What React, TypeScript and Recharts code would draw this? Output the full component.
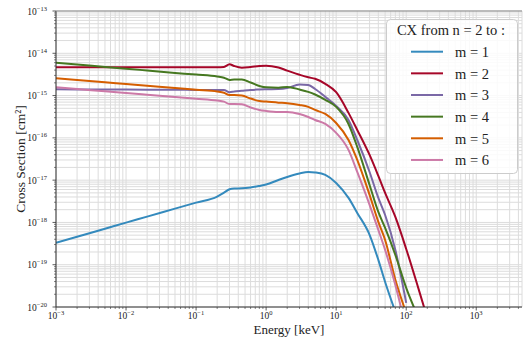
import React from 'react';
import { LineChart, Line, XAxis, YAxis, CartesianGrid } from 'recharts';

// energy grid [keV]
const energy = [0.001, 0.002, 0.005, 0.01, 0.02, 0.05, 0.1, 0.2, 0.25, 0.3, 0.35, 0.45, 0.6, 0.8, 1, 1.5, 2, 3, 4, 5, 7, 10, 15, 20, 30, 40, 50, 70, 100, 150, 200];

// cross sections [cm^2], CX from n = 2 to m
const m1 = [3.3e-19, 4.6e-19, 7.1e-19, 9.9e-19, 1.37e-18, 2.12e-18, 2.94e-18, 4.07e-18, 5.06e-18, 6.1e-18, 6.36e-18, 6.4e-18, 6.7e-18, 7.3e-18, 7.9e-18, 1.01e-17, 1.19e-17, 1.44e-17, 1.56e-17, 1.52e-17, 1.33e-17, 8.6e-18, 3.8e-18, 1.68e-18, 5.1e-19, 1.3e-19, 3.9e-20, 7.7e-21, null, null, null];
const m2 = [4.7e-15, 4.7e-15, 4.7e-15, 4.7e-15, 4.7e-15, 4.7e-15, 4.7e-15, 4.7e-15, 4.75e-15, 5.5e-15, 5.0e-15, 4.57e-15, 4.74e-15, 5.0e-15, 5.1e-15, 4.6e-15, 3.9e-15, 3.1e-15, 2.7e-15, 2.5e-15, 1.9e-15, 1.2e-15, 3.9e-16, 1.54e-16, 3.94e-17, 1.26e-17, 4.98e-18, 1.35e-18, 2.36e-19, 2.68e-20, 5.5e-21];
const m3 = [1.41e-15, 1.4e-15, 1.4e-15, 1.39e-15, 1.38e-15, 1.37e-15, 1.36e-15, 1.36e-15, 1.36e-15, 1.2e-15, 1.25e-15, 1.3e-15, 1.36e-15, 1.39e-15, 1.41e-15, 1.43e-15, 1.51e-15, 1.83e-15, 1.78e-15, 1.43e-15, 9.3e-16, 5.7e-16, 2.65e-16, 8.9e-17, 1.56e-17, 3.8e-18, 1.5e-18, 2.24e-19, 1.25e-20, null, null];
const m4 = [6.0e-15, 5.4e-15, 4.77e-15, 4.32e-15, 3.92e-15, 3.44e-15, 3.13e-15, 2.83e-15, 2.65e-15, 2.34e-15, 2.4e-15, 2.4e-15, 2.04e-15, 1.69e-15, 1.57e-15, 1.54e-15, 1.6e-15, 1.39e-15, 1.22e-15, 1.06e-15, 7.9e-16, 5.4e-16, 2.13e-16, 6.1e-17, 7.7e-18, 1.77e-18, 7.4e-19, 1.7e-19, 2.83e-20, 5.5e-21, null];
const m5 = [2.56e-15, 2.34e-15, 2.06e-15, 1.88e-15, 1.71e-15, 1.51e-15, 1.37e-15, 1.25e-15, 1.17e-15, 1.03e-15, 1.03e-15, 1.0e-15, 8.5e-16, 7.4e-16, 7.2e-16, 6.8e-16, 6.6e-16, 6.0e-16, 5.4e-16, 4.57e-16, 3.67e-16, 2.25e-16, 8.9e-17, 3.0e-17, 4.47e-18, 1.03e-18, 3.85e-19, 4.4e-20, 7.2e-21, null, null];
const m6 = [1.57e-15, 1.43e-15, 1.26e-15, 1.15e-15, 1.05e-15, 9.3e-16, 8.45e-16, 7.66e-16, 7.2e-16, 6.3e-16, 6.3e-16, 6.2e-16, 5.24e-16, 4.57e-16, 4.33e-16, 4.1e-16, 4.1e-16, 3.67e-16, 3.12e-16, 2.65e-16, 2.13e-16, 1.31e-16, 5.2e-17, 1.56e-17, 2.6e-18, 6.65e-19, 2.24e-19, 3.3e-20, 3e-21, null, null];

const seriesNames = ['m = 1', 'm = 2', 'm = 3', 'm = 4', 'm = 5', 'm = 6'];
const seriesKeys = ['m1', 'm2', 'm3', 'm4', 'm5', 'm6'];
const seriesColors = ['#348ABD', '#A60628', '#7A68A6', '#467821', '#D55E00', '#CC79A7'];
const seriesValues = [m1, m2, m3, m4, m5, m6];

const xMajor = [1e-3, 1e-2, 1e-1, 1e0, 1e1, 1e2, 1e3];
const xMajorExp = ['−3', '−2', '−1', '0', '1', '2', '3'];
const yMajor = [1e-20, 1e-19, 1e-18, 1e-17, 1e-16, 1e-15, 1e-14, 1e-13];
const yMajorExp = ['−20', '−19', '−18', '−17', '−16', '−15', '−14', '−13'];

const X_MAX = 4500;

const data = energy.map((e, i) => {
  const row: any = { energy: e };
  seriesKeys.forEach((k, j) => { row[k] = seriesValues[j][i]; });
  return row;
});

// majors plus 2..9 minors between them
function withMinors(majors: number[], max: number) {
  const out: number[] = [];
  majors.forEach((v) => {
    for (let m = 1; m <= 9; m++) {
      const t = parseFloat((m * v).toPrecision(6));
      if (t <= max) out.push(t);
    }
  });
  return out;
}
const xTicks = withMinors(xMajor, X_MAX);
const yTicks = withMinors(yMajor, 1e-13);

const W = 523;
const H = 341;
const FONT = '"Liberation Serif", "DejaVu Serif", serif';

function majorIndex(list: number[], v: number) {
  return list.findIndex((t) => Math.abs(t - v) / t < 1e-6);
}

const XTick = (props: any) => {
  const { x, y, payload } = props;
  const i = majorIndex(xMajor, payload.value);
  if (i < 0) return <line x1={x} x2={x} y1={y} y2={y + 2} stroke="#333" strokeWidth={0.6} />;
  return (
    <g>
      <line x1={x} x2={x} y1={y} y2={y + 3.5} stroke="#333" strokeWidth={0.8} />
      <text x={x} y={y + 12} textAnchor="middle" fontSize={9.5} fill="#222" fontFamily={FONT}>
        10<tspan dy={-4} fontSize={6.5}>{xMajorExp[i]}</tspan>
      </text>
    </g>
  );
};

const YTick = (props: any) => {
  const { x, y, payload } = props;
  const i = majorIndex(yMajor, payload.value);
  if (i < 0) return <line x1={x - 2} x2={x} y1={y} y2={y} stroke="#333" strokeWidth={0.6} />;
  return (
    <g>
      <line x1={x - 3.5} x2={x} y1={y} y2={y} stroke="#333" strokeWidth={0.8} />
      <text x={x - 9} y={y + 3.5} textAnchor="end" fontSize={9.5} fill="#222" fontFamily={FONT}>
        10<tspan dy={-4} fontSize={6.5}>{yMajorExp[i]}</tspan>
      </text>
    </g>
  );
};

export default function App() {
  return (
    <div style={{ position: 'absolute', left: 0, top: 0, width: W, height: H, background: '#fff' }}>
      <LineChart width={W} height={H} data={data} margin={{ top: 11, right: 1, bottom: 0, left: 0 }}>
        <CartesianGrid stroke="#dcdcdc" strokeWidth={1} />
        <XAxis
          dataKey="energy"
          type="number"
          scale="log"
          domain={[1e-3, X_MAX]}
          allowDataOverflow
          ticks={xTicks}
          interval={0}
          tick={<XTick />}
          tickLine={false}
          tickSize={0}
          tickMargin={0}
          axisLine={{ stroke: '#333', strokeWidth: 1 }}
          height={34}
        />
        <YAxis
          type="number"
          scale="log"
          domain={[1e-20, 1e-13]}
          allowDataOverflow
          ticks={yTicks}
          interval={0}
          tick={<YTick />}
          tickLine={false}
          tickSize={0}
          tickMargin={0}
          axisLine={{ stroke: '#333', strokeWidth: 1 }}
          width={56}
        />
        {seriesKeys.map((k, j) => (
          <Line
            key={k}
            dataKey={k}
            name={seriesNames[j]}
            type="monotone"
            stroke={seriesColors[j]}
            strokeWidth={2}
            dot={false}
            isAnimationActive={false}
          />
        ))}
      </LineChart>
      <svg width={W} height={H} style={{ position: 'absolute', left: 0, top: 0, pointerEvents: 'none' }} fontFamily={FONT}>
        <line x1={56} x2={522} y1={11} y2={11} stroke="#888" strokeWidth={1} />
        <text x={289} y={333.5} textAnchor="middle" fontSize={13} fill="#222">Energy [keV]</text>
        <text transform="translate(25,159) rotate(-90)" textAnchor="middle" fontSize={13.5} fill="#222">Cross Section [cm²]</text>
        <rect x={386.5} y={19.5} width={131} height={154} rx={4} fill="rgba(255,255,255,0.85)" stroke="#cccccc" />
        <text x={451} y={35} textAnchor="middle" fontSize={14.5} fill="#222">CX from n = 2 to :</text>
        {seriesNames.map((n, j) => (
          <g key={n}>
            <line x1={411} x2={443} y1={51.7 + j * 21.65} y2={51.7 + j * 21.65} stroke={seriesColors[j]} strokeWidth={2} />
            <text x={455} y={57 + j * 21.65} fontSize={14.5} fill="#222">{n}</text>
          </g>
        ))}
      </svg>
    </div>
  );
}
